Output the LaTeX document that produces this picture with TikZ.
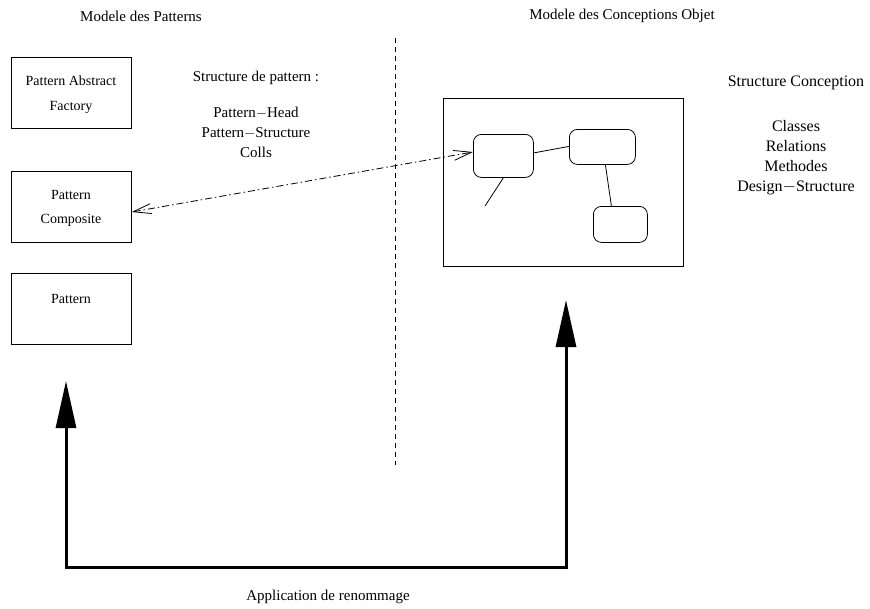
\documentclass[tikz,border=0pt]{standalone}
\usepackage{fontspec}
\setmainfont{Liberation Serif}
\usetikzlibrary{arrows.meta,calc}
\begin{document}
\begin{tikzpicture}[x=1pt,y=-1pt,
  patbox/.style={draw,line width=0.8pt,minimum width=120pt,minimum height=71pt,
    inner sep=0pt,anchor=north west},
  boxtext/.style={font=\fontsize{14}{24.5}\selectfont,align=center,inner sep=0pt},
  objbox/.style={draw,line width=0.8pt,rounded corners=8pt,inner sep=0pt,anchor=north west},
  label/.style={font=\fontsize{15}{20}\selectfont,align=center,inner sep=0pt},
  rlabel/.style={font=\fontsize{16}{20}\selectfont,align=center,inner sep=0pt},
  thin/.style={line width=0.8pt},
  bigarrow/.style={line width=3pt,-{Triangle[length=47pt,width=20pt]}},
  link/.style={line width=0.8pt,dash pattern=on 7pt off 3pt on 1.5pt off 3pt,
    {Straight Barb[length=18pt,width=10pt,line width=0.8pt]}-{Straight Barb[length=18pt,width=10pt,line width=0.8pt]}}]
\useasboundingbox (0,0) rectangle (870,608);

% column titles and separator
\node[label] (t1) at (141,16) {Modele des Patterns};
\node[label] (t2) at (622,16) {Modele des Conceptions Objet};
\coordinate (sepa) at (395,38);
\coordinate (sepb) at (395,465);
\draw[thin,dash pattern=on 5pt off 4pt] (sepa) -- (sepb);

% pattern boxes
\node[patbox] (f) at (11,57) {};
\node[boxtext] (ft) at (71,94.5) {Pattern Abstract\\Factory};
\node[patbox] (c) at (11,171) {};
\node[boxtext] (ct) at (71,208.5) {Pattern\\Composite};
\node[patbox] (p) at (11,273) {};
\node[boxtext] (pt) at (71,299) {Pattern};

% pattern structure text
\node[label] (sp) at (256,78) {Structure de pattern :};
\node[label] (spl) at (256,132) {Pattern$-$Head\\Pattern$-$Structure\\Colls};

% object design
\node[draw,thin,minimum width=240pt,minimum height=168pt,inner sep=0pt,anchor=north west] (o) at (443,98) {};
\node[objbox,minimum width=60pt,minimum height=43pt] (a) at (473,134) {};
\node[objbox,minimum width=66pt,minimum height=35pt] (b) at (569,129) {};
\node[objbox,minimum width=54pt,minimum height=36pt] (d) at (593,206) {};
\draw[thin] ($(a.east)+(0,-3)$) -- ($(b.west)+(0,-0.5)$);
\draw[thin] ($(b.south)+(3,0)$) -- ($(d.north)+(-9,0)$);
\coordinate (stub) at (485,206);
\draw[thin] ($(a.south)+(0,0)$) -- (stub);

\node[rlabel] (sc) at (796,83) {Structure Conception};
\node[rlabel] (scl) at (796,158) {Classes\\Relations\\Methodes\\Design$-$Structure};

% correspondence link
\draw[link] (c.east |- 0,212) -- (a.west |- 0,152);

% renaming application
\coordinate (bl) at (66,567);
\coordinate (br) at (566,567);
\coordinate (lt) at (66,381);
\coordinate (rt) at (566,300);
\draw[bigarrow] (br) -- (bl) -- (lt);
\draw[bigarrow] (bl) -- (br) -- (rt);
\node[label] (ren) at (328,597) {Application de renommage};
\end{tikzpicture}
\end{document}
